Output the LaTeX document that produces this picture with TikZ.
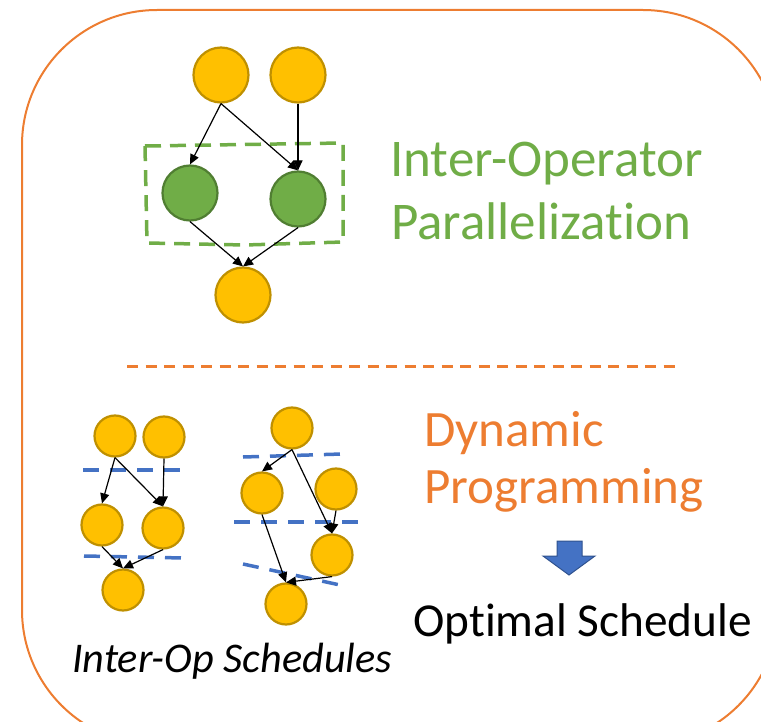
\documentclass[tikz,border=0pt]{standalone}
\usepackage{fontspec}
\setmainfont{Carlito}[Ligatures={NoCommon}]
\usetikzlibrary{arrows.meta}
\definecolor{gold}{HTML}{FFC000}
\definecolor{golddk}{HTML}{BF9000}
\definecolor{grn}{HTML}{70AD47}
\definecolor{grndk}{HTML}{507E32}
\definecolor{blu}{HTML}{4472C4}
\definecolor{bludk}{HTML}{2F528F}
\definecolor{orng}{HTML}{ED7D31}
\tikzset{
  bigop/.style={circle, draw=golddk, fill=gold, line width=2.2pt, minimum size=55pt, inner sep=0pt},
  bigpar/.style={circle, draw=grndk, fill=grn, line width=2.2pt, minimum size=55pt, inner sep=0pt},
  smallop/.style={circle, draw=golddk, fill=gold, line width=2.2pt, minimum size=41pt, inner sep=0pt},
  edge/.style={line width=1.2pt, -{Triangle[length=10pt,width=9pt]}},
  cutline/.style={blu, line width=3.5pt, dash pattern=on 16pt off 11pt},
  lbl/.style={anchor=base west, inner sep=0pt},
}
\begin{document}
\begin{tikzpicture}[x=1pt,y=-1pt]
\useasboundingbox (0,0) rectangle (761,722);
\clip (0,0) rectangle (761,722);
% frame
\draw[orng, line width=2pt, rounded corners=135pt] (22,10) rectangle (778,745);
% top graph
\node[bigop] (ta) at (221,75) {};
\node[bigop] (tb) at (298,75) {};
\node[bigpar] (gl) at (190,193) {};
\node[bigpar] (gr) at (298,199) {};
\node[bigop] (tc) at (243,295) {};
\draw[grn, line width=3.5pt, dash pattern=on 16pt off 9pt]
  (145,146) -- (343,143) -- (343,242) -- (245,245) -- (147,243) -- cycle;
\draw[edge] (ta.south) -- (gl.north);
\draw[edge] (ta.south) -- (gr.north);
\draw[edge] (tb.south) -- (gr.north);
\draw[edge] (gl.south) -- (tc.north);
\draw[edge] (gr.south) -- (tc.north);
\node[lbl, text=grn, font=\fontsize{53}{53}\selectfont] (t1) at (390,177) {Inter-Operator};
\node[lbl, text=grn, font=\fontsize{53}{53}\selectfont] (t2) at (391,240) {Parallelization};
% separator
\draw[orng, line width=3pt, dash pattern=on 11pt off 7.5pt] (127,366) -- (680,366);
% lower left graph
\node[smallop] (a) at (115,436) {};
\node[smallop] (b) at (164,437) {};
\node[smallop] (c) at (102,525) {};
\node[smallop] (d) at (163,528) {};
\node[smallop] (e) at (123,590) {};
\draw[cutline] (83,470) -- (183,470);
\draw[cutline] (84,556) -- (184,558);
\draw[edge] (a.south) -- (c.north);
\draw[edge] (a.south) -- (d.north);
\draw[edge] (b.south) -- (d.north);
\draw[edge] (c.south) -- (e.north);
\draw[edge] (d.south) -- (e.north);
% lower right graph
\node[smallop] (f) at (292,428) {};
\node[smallop] (g) at (262,493) {};
\node[smallop] (h) at (336,489) {};
\node[smallop] (i) at (332,555) {};
\node[smallop] (j) at (286,604) {};
\draw[cutline] (243,457) -- (342,454);
\draw[cutline] (234,522) -- (362,522);
\draw[cutline] (243,564) -- (340,585);
\draw[edge] (f.south) -- (g.north);
\draw[edge] (f.south) -- (i.north);
\draw[edge] (h.south) -- (i.north);
\draw[edge] (g.south) -- (j.north);
\draw[edge] (i.south) -- (j.north);
% right texts
\node[lbl, text=orng, font=\fontsize{51}{51}\selectfont] (t3) at (424,446) {Dynamic};
\node[lbl, text=orng, font=\fontsize{51}{51}\selectfont] (t4) at (424,503) {Programming};
\draw[fill=blu, draw=bludk, line width=1pt]
  (557,541) -- (582,541) -- (582,556) -- (595,556) -- (569,575) -- (543,556) -- (557,556) -- cycle;
\node[lbl, font=\fontsize{47.3}{47.3}\selectfont] (t5) at (413,636) {Optimal Schedule};
\node[lbl, font=\itshape\fontsize{42.3}{42.3}\selectfont] (t6) at (72,672) {Inter-Op Schedules};
\end{tikzpicture}
\end{document}
